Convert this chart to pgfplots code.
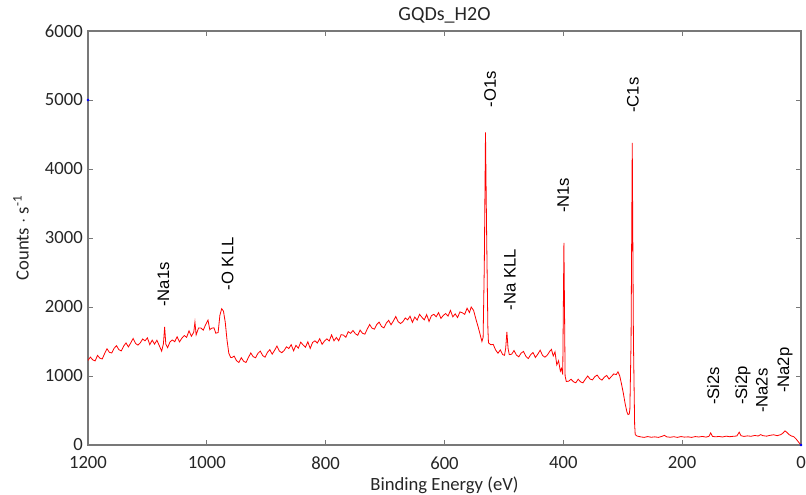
\documentclass[border=0pt]{standalone}
\usepackage{pgfplots}
\pgfplotsset{compat=1.18}
\usepackage{fontspec}
\setmainfont{Carlito}
\newfontfamily\arialf{Liberation Sans}
\definecolor{axgray}{RGB}{120,120,120}
\definecolor{txt}{RGB}{38,38,38}

\begin{document}
\begin{tikzpicture}
\begin{axis}[
    name=ax,
    scale only axis,
    width=534.75pt, height=310.5pt,
    x dir=reverse,
    xmin=0, xmax=1200,
    ymin=0, ymax=6000,
    xtick={0,200,400,600,800,1000,1200},
    ytick={0,1000,2000,3000,4000,5000,6000},
    tick align=inside,
    major tick length=4pt,
    tick style={axgray, line width=0.6pt},
    axis line style={axgray, line width=0.8pt},
    /pgf/number format/assume math mode=true,
    /pgf/number format/1000 sep={},
    ticklabel style={font=\fontsize{14}{16}\selectfont, text=txt, inner sep=0.5pt},
    xticklabel style={yshift=-8.2pt},
    yticklabel style={xshift=-3.2pt},
    xlabel={\fontsize{14}{16}\selectfont Binding Energy (eV)},
    ylabel={\fontsize{14}{16}\selectfont Counts $\cdot$ s\textsuperscript{-1}},
    xlabel style={at={(axis description cs:0.5,0)}, anchor=base, yshift=-34pt, text=txt},
    ylabel style={at={(axis description cs:0,0.5)}, anchor=base, yshift=44.5pt, text=txt},
    title={\fontsize{15}{17}\selectfont GQDs\_H2O},
    title style={at={(axis description cs:0.5,1)}, anchor=base, yshift=1.5pt, text=txt},
    clip=false,
]
\addplot[red, line width=0.6pt] coordinates {
(1200,1226)(1196,1274)(1192,1234)(1188,1218)(1184,1298)(1180,1258)(1176,1247)(1172,1325)
(1168,1394)(1164,1343)(1160,1333)(1156,1402)(1152,1439)(1148,1381)(1144,1363)(1140,1433)
(1136,1479)(1132,1421)(1128,1480)(1124,1544)(1120,1472)(1116,1448)(1112,1480)(1108,1536)
(1104,1510)(1100,1553)(1096,1453)(1092,1520)(1088,1462)(1084,1518)(1080,1439)(1076,1360)
(1073,1470)(1071,1710)(1069,1460)(1066,1410)(1062,1494)(1058,1522)(1054,1497)(1050,1568)
(1046,1494)(1042,1548)(1038,1586)(1034,1560)(1030,1654)(1026,1576)(1022,1634)(1020,1780)
(1018,1596)(1014,1694)(1010,1696)(1006,1664)(1002,1744)(998,1810)(995,1670)(992,1692)
(988,1698)(985,1620)(981,1630)(978,1880)(975,1975)(972,1940)(969,1780)(966,1520)
(963,1330)(960,1270)(958,1266)(954,1288)(950,1222)(946,1195)(942,1264)(938,1213)
(934,1196)(930,1269)(926,1333)(922,1280)(918,1264)(914,1328)(910,1360)(906,1296)
(902,1272)(898,1342)(894,1381)(890,1316)(886,1371)(882,1434)(878,1362)(874,1337)
(870,1368)(866,1423)(862,1398)(858,1454)(854,1365)(850,1444)(846,1403)(842,1490)
(838,1450)(834,1417)(830,1496)(826,1399)(822,1486)(818,1510)(814,1477)(810,1540)
(806,1459)(802,1506)(798,1538)(794,1507)(790,1596)(786,1509)(782,1558)(778,1510)
(774,1599)(770,1592)(766,1561)(762,1642)(758,1618)(754,1659)(750,1612)(746,1590)
(742,1665)(738,1619)(734,1606)(730,1680)(726,1746)(722,1693)(718,1679)(714,1746)
(710,1780)(706,1718)(702,1697)(698,1766)(694,1806)(690,1742)(686,1798)(682,1862)
(678,1787)(674,1760)(670,1787)(666,1840)(662,1813)(658,1867)(654,1776)(650,1854)
(646,1810)(642,1894)(638,1850)(634,1814)(630,1890)(626,1790)(622,1874)(618,1894)
(614,1858)(610,1918)(606,1834)(602,1878)(598,1905)(594,1868)(590,1951)(586,1857)
(582,1900)(578,1847)(574,1929)(570,1916)(566,1893)(562,1982)(558,1920)(555,2000)
(551,1950)(547,1820)(543,1700)(540,1600)(537,1500)(535,1560)(533,2600)(531,4530)
(529,3000)(527,1700)(526,1480)(522,1453)(518,1458)(514,1378)(510,1330)(506,1378)
(502,1310)(499,1300)(497,1400)(495,1640)(493,1400)(491,1310)(487,1315)(483,1369)
(479,1304)(475,1278)(471,1332)(467,1356)(463,1284)(459,1252)(455,1308)(451,1340)
(447,1268)(443,1316)(439,1374)(435,1298)(431,1272)(427,1302)(423,1356)(420,1386)
(417,1290)(414,1350)(411,1160)(408,1220)(405,1070)(403,1110)(401,1020)(399,2930)
(397,1000)(395,920)(391,925)(387,953)(383,917)(379,901)(375,953)(371,915)
(367,901)(363,953)(359,999)(355,956)(351,943)(347,990)(343,1013)(339,963)
(335,940)(331,983)(327,1008)(323,955)(319,994)(315,1030)(311,1020)(308,1060)
(305,1000)(302,880)(299,750)(296,600)(293,480)(291,440)(289,450)(288,520)
(286,1500)(284,4380)(282,1500)(280,300)(279,150)(276,130)(270,118)(264,110)
(258,122)(252,112)(246,118)(240,110)(234,125)(230,140)(226,118)(220,112)
(214,120)(208,110)(202,122)(196,114)(190,118)(184,110)(178,122)(172,116)
(166,124)(160,114)(155,125)(152,175)(149,125)(144,118)(138,124)(132,116)
(126,128)(120,120)(114,126)(108,130)(104,185)(101,135)(96,124)(90,132)
(84,126)(78,138)(72,130)(68,150)(64,135)(58,128)(52,140)(46,148)
(40,135)(34,150)(30,175)(27,205)(24,185)(20,150)(16,130)(12,120)
(8,85)(4,40)(0,0)
};
\addplot[blue, only marks, mark=*, mark size=0.8pt] coordinates {(1200,5000)(0,0)};
\begin{scope}[every node/.style={rotate=90, anchor=west, inner sep=0pt, text=black,
    font=\arialf\fontsize{12.5}{14}\selectfont}]
\node at (axis cs:1073,2000) {-Na1s};
\node at (axis cs:965,2240) {-O KLL};
\node at (axis cs:523,4890) {-O1s};
\node at (axis cs:490,1950) {-Na KLL};
\node at (axis cs:400,3360) {-N1s};
\node at (axis cs:283,4810) {-C1s};
\node at (axis cs:148,580) {-Si2s};
\node at (axis cs:98,580) {-Si2p};
\node at (axis cs:66,460) {-Na2s};
\node at (axis cs:27,750) {-Na2p};
\end{scope}
\end{axis}
\pgfresetboundingbox
\useasboundingbox ([xshift=-66pt,yshift=-37.5pt]ax.south west) rectangle ([xshift=3.75pt,yshift=23.25pt]ax.north east);
\end{tikzpicture}
\end{document}
